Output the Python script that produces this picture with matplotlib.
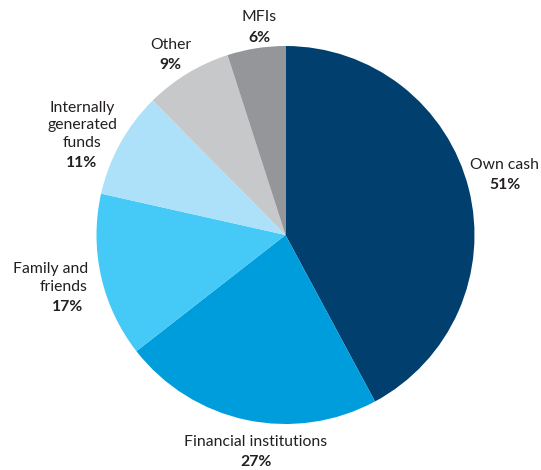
import matplotlib
matplotlib.use("Agg")
import matplotlib.pyplot as plt

plt.rcParams['font.family'] = ['Lato', 'DejaVu Sans']

# data
labels = ["Own cash", "Financial institutions", "Family and\nfriends",
          "Internally\ngenerated\nfunds", "Other", "MFIs"]
values = [51, 27, 17, 11, 9, 6]
colors = ["#003F6E", "#009DDC", "#45C9F6", "#ADE1FA", "#C7C8CA", "#949699"]

# label placement (in pie-radius units): point between name and percentage
label_pos = [(1.161, 0.317), (-0.156, -1.148), (-1.045, -0.328),
             (-1.077, 0.434), (-0.608, 0.952), (-0.140, 1.098)]
label_ha = ["center", "center", "right", "center", "center", "center"]
pct_x = [1.161, -0.156, -1.151, -1.077, -0.608, -0.140]

fig = plt.figure(figsize=(5.41, 4.70), dpi=100)
ax = fig.add_axes([0, 0, 1, 1])

ax.pie(values, colors=colors, startangle=90, counterclock=False,
       wedgeprops=dict(linewidth=0))

# radius of 189 px, centre at (285.5, 235) px
r_px = 189.0
ax.set_xlim(-285.5 / r_px, (541 - 285.5) / r_px)
ax.set_ylim(-235 / r_px, 235 / r_px)
ax.set_aspect('auto')
ax.axis('off')

for lab, v, (x, y), ha, px in zip(labels, values, label_pos, label_ha, pct_x):
    ax.text(x, y + 0.016, lab, ha=ha, va='bottom', multialignment=ha,
            fontsize=11.3, color="#231F20", linespacing=1.32)
    ax.text(px, y - 0.016, f"{v}%", ha='center', va='top',
            fontsize=11.3, fontweight='bold', color="#231F20")

fig.savefig("out.png", dpi=100)
